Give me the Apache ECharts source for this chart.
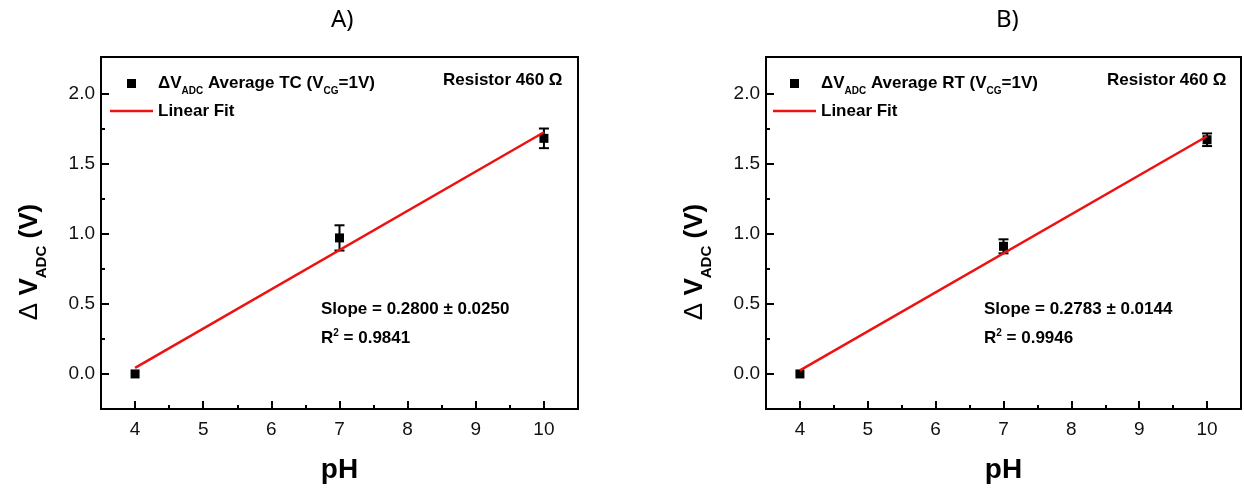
<!DOCTYPE html>
<html>
<head>
<meta charset="utf-8">
<style>
  html, body { margin: 0; padding: 0; background: #fff; }
  #chart { width: 1244px; height: 489px; }
</style>
<script src="https://cdn.jsdelivr.net/npm/echarts@6/dist/echarts.min.js"></script>
</head>
<body>
<div id="chart"></div>
<script>
// pH values of the buffer solutions
const phValues = [4, 7, 10];

// Average ΔV_ADC (V) and error bars, tensile configuration (TC)
const tcMean = [0.00, 0.97, 1.68];
const tcError = [0.0, 0.09, 0.07];

// Average ΔV_ADC (V) and error bars, room temperature (RT)
const rtMean = [0.00, 0.91, 1.67];
const rtError = [0.0, 0.05, 0.045];

// Linear fit results printed on each panel
const tcFit = { slope: 0.2800, slopeErr: 0.0250, r2: 0.9841 };
const rtFit = { slope: 0.2783, slopeErr: 0.0144, r2: 0.9946 };

// Axis ticks
const xMajorTicks = [4, 5, 6, 7, 8, 9, 10];
const xMinorTicks = [4.5, 5.5, 6.5, 7.5, 8.5, 9.5];
const yMajorTicks = [0.0, 0.5, 1.0, 1.5, 2.0];
const yMinorTicks = [0.25, 0.75, 1.25, 1.75];

const panelTitles = ['A)', 'B)'];
const seriesNames = ['ΔVADC Average TC (VCG=1V)', 'ΔVADC Average RT (VCG=1V)'];
const resistorLabel = 'Resistor 460 Ω';

const FONT = '"Liberation Sans", Arial, sans-serif';
const RED = '#ee1111';

const grids = [
  { left: 101, top: 57, width: 477, height: 355 },
  { left: 766, top: 57, width: 475, height: 355 }
];

function fitLine(xs, ys, slope) {
  const mx = xs.reduce((a, b) => a + b, 0) / xs.length;
  const my = ys.reduce((a, b) => a + b, 0) / ys.length;
  const b = my - slope * mx;
  const x0 = xs[0], x1 = xs[xs.length - 1];
  return [[x0, slope * x0 + b], [x1, slope * x1 + b]];
}

const xAxes = [], yAxes = [], series = [], legends = [], graphics = [];

const richLegend = {
  t: { fontSize: 17, fontWeight: 'bold', fontFamily: FONT, color: '#000', lineHeight: 22 },
  s: { fontSize: 10, fontWeight: 'bold', fontFamily: FONT, color: '#000', lineHeight: 22,
       verticalAlign: 'bottom', padding: [0, 0, -2, 0] }
};

function legendText(name) {
  if (name === 'Linear Fit') return '{t|Linear Fit}';
  const cond = name.indexOf(' TC ') >= 0 ? 'TC' : 'RT';
  return '{t|ΔV}{s|ADC}{t| Average ' + cond + ' (V}{s|CG}{t|=1V)}';
}

const panels = [
  { mean: tcMean, err: tcError, fit: tcFit, legendLeft: 105 },
  { mean: rtMean, err: rtError, fit: rtFit, legendLeft: 768 }
];

panels.forEach((p, i) => {
  const g = grids[i];
  const xi = xAxes.length, yi = yAxes.length;

  // main x axis with major ticks and labels
  xAxes.push({
    gridIndex: i, type: 'value', min: 3.5, max: 10.5,
    name: 'pH', nameLocation: 'middle', nameGap: 47,
    nameTextStyle: { fontSize: 28, fontWeight: 'bold', fontFamily: FONT, color: '#000' },
    axisLine: { show: true, onZero: false, lineStyle: { color: '#000', width: 2 } },
    axisTick: { show: true, inside: true, length: 8, customValues: xMajorTicks,
                lineStyle: { color: '#000', width: 2 } },
    axisLabel: { show: true, customValues: xMajorTicks, fontSize: 19, fontFamily: FONT,
                 color: '#111', margin: 11 },
    splitLine: { show: false }
  });
  // overlay x axis carrying minor ticks
  xAxes.push({
    gridIndex: i, type: 'value', min: 3.5, max: 10.5, position: 'bottom',
    axisLine: { show: false, onZero: false },
    axisTick: { show: true, inside: true, length: 4, customValues: xMinorTicks,
                lineStyle: { color: '#000', width: 2 } },
    axisLabel: { show: false }, splitLine: { show: false }
  });
  yAxes.push({
    gridIndex: i, type: 'value', min: -0.25, max: 2.26,
    axisLine: { show: true, onZero: false, lineStyle: { color: '#000', width: 2 } },
    axisTick: { show: true, inside: true, length: 8, customValues: yMajorTicks,
                lineStyle: { color: '#000', width: 2 } },
    axisLabel: { show: true, customValues: yMajorTicks, fontSize: 19, fontFamily: FONT,
                 color: '#111', margin: 6, formatter: v => Number(v).toFixed(1) },
    splitLine: { show: false }
  });
  yAxes.push({
    gridIndex: i, type: 'value', min: -0.25, max: 2.26, position: 'left',
    axisLine: { show: false, onZero: false },
    axisTick: { show: true, inside: true, length: 4, customValues: yMinorTicks,
                lineStyle: { color: '#000', width: 2 } },
    axisLabel: { show: false }, splitLine: { show: false }
  });

  const points = phValues.map((x, k) => [x, p.mean[k]]);
  const bars = phValues.map((x, k) => [x, p.mean[k] - p.err[k], p.mean[k] + p.err[k]]);

  series.push({
    type: 'custom', name: 'error' + i, xAxisIndex: xi, yAxisIndex: yi, z: 3,
    data: bars, encode: { x: 0, y: [1, 2] },
    renderItem: (params, api) => {
      const x = api.value(0);
      const top = api.coord([x, api.value(2)]);
      const bot = api.coord([x, api.value(1)]);
      if (Math.abs(bot[1] - top[1]) < 1) return null;
      const w = 5;
      const st = { stroke: '#000', lineWidth: 2 };
      return {
        type: 'group',
        children: [
          { type: 'line', shape: { x1: top[0], y1: top[1], x2: bot[0], y2: bot[1] }, style: st },
          { type: 'line', shape: { x1: top[0] - w, y1: top[1], x2: top[0] + w, y2: top[1] }, style: st },
          { type: 'line', shape: { x1: bot[0] - w, y1: bot[1], x2: bot[0] + w, y2: bot[1] }, style: st }
        ]
      };
    }
  });
  series.push({
    type: 'scatter', name: seriesNames[i], xAxisIndex: xi, yAxisIndex: yi, z: 4,
    symbol: 'rect', symbolSize: 9, itemStyle: { color: '#000', opacity: 1 }, data: points
  });
  series.push({
    type: 'line', name: 'Linear Fit', xAxisIndex: xi, yAxisIndex: yi, z: 5,
    symbol: 'none', showSymbol: false, lineStyle: { color: RED, width: 2.5 }, itemStyle: { color: RED },
    data: fitLine(phValues, p.mean, p.fit.slope)
  });

  legends.push({
    orient: 'vertical', left: p.legendLeft, top: 70, itemWidth: 43, itemHeight: 9, itemGap: 6,
    selectedMode: false,
    data: [{ name: seriesNames[i], icon: 'path://M0,0H1V1H0Z' },
           { name: 'Linear Fit', icon: 'path://M0,0H43V2.5H0Z' }],
    formatter: legendText,
    textStyle: { rich: richLegend }
  });

  const ox = g.left;
  graphics.push(
    { type: 'text', left: (i === 0 ? 343 : 1008) - 12, top: 8,
      style: { text: panelTitles[i], font: '24px "Noto Sans", sans-serif', fill: '#000' } },
    { type: 'text', x: ox + (i === 0 ? 342 : 341), y: 80,
      style: { text: resistorLabel, font: 'bold 17px ' + FONT, fill: '#000',
               verticalAlign: 'middle' } },
    { type: 'text', x: ox + (i === 0 ? 220 : 218), y: 309,
      style: { text: 'Slope = ' + p.fit.slope.toFixed(4) + ' ± ' + p.fit.slopeErr.toFixed(4),
               font: 'bold 17px ' + FONT, fill: '#000', verticalAlign: 'middle' } },
    { type: 'text', x: ox + (i === 0 ? 220 : 218), y: 338,
      style: { text: '{t|R}{u|2}{t| = ' + p.fit.r2.toFixed(4) + '}', verticalAlign: 'middle',
               rich: {
                 t: { fontSize: 17, fontWeight: 'bold', fontFamily: FONT, fill: '#000', lineHeight: 22 },
                 u: { fontSize: 10, fontWeight: 'bold', fontFamily: FONT, fill: '#000', lineHeight: 22,
                      verticalAlign: 'top', padding: [1, 0, 0, 0] }
               } } },
    { type: 'text', x: ox - 71, y: 262, rotation: Math.PI / 2,
      style: { text: '{d|Δ }{v|V}{s|ADC}{v| (V)}', align: 'center', verticalAlign: 'middle',
               rich: {
                 d: { fontSize: 26, fontFamily: FONT, fill: '#000', lineHeight: 32 },
                 v: { fontSize: 26, fontWeight: 'bold', fontFamily: FONT, fill: '#000', lineHeight: 32 },
                 s: { fontSize: 15, fontWeight: 'bold', fontFamily: FONT, fill: '#000', lineHeight: 32,
                      verticalAlign: 'bottom', padding: [0, 0, -3, 0] }
               } } }
  );
});

const chart = echarts.init(document.getElementById('chart'), null, { renderer: 'canvas' });
chart.setOption({
  backgroundColor: '#ffffff',
  animation: false,
  grid: grids.map(g => Object.assign({ show: true, borderColor: '#000', borderWidth: 2,
                                       backgroundColor: 'transparent' }, g)),
  xAxis: xAxes,
  yAxis: yAxes,
  legend: legends,
  series: series,
  graphic: graphics
});
</script>
</body>
</html>
